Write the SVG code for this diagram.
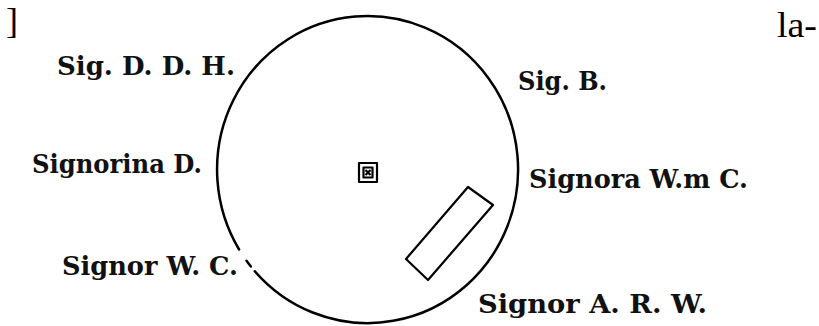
<svg xmlns="http://www.w3.org/2000/svg" width="819" height="326" viewBox="0 0 819 326">
<style>
.lbl{font-family:"DejaVu Serif","Liberation Serif",serif;font-weight:bold;font-size:26px;fill:#111}
.frag{font-family:"Liberation Serif","Times New Roman",serif;font-size:36px;fill:#000}
.ln{fill:none;stroke:#000;stroke-width:2.5;stroke-linecap:round}
.box{fill:none;stroke:#000;stroke-width:2.2;stroke-linejoin:round}
</style>
<rect width="819" height="326" fill="#fff"/>
<text class="frag" x="6" y="33" font-size="28">]</text>
<text class="frag" x="777" y="37" textLength="40" lengthAdjust="spacingAndGlyphs">la-</text>
<g id="table">
<path class="ln" d="M 239.1 249.5 A 150.5 153.5 0 1 1 254.8 271.2"/>
<path class="ln" d="M 246.5 260.8 A 150.5 153.5 0 0 0 250.9 266.5"/>
</g>
<g id="center-mark">
<rect class="box" x="359" y="163" width="18" height="19" stroke-width="2.4"/>
<rect class="box" x="363.5" y="167.5" width="9" height="10" stroke-width="2"/>
<path class="box" d="M365.5 170 L370.5 175 M370.5 170 L365.5 175" stroke-width="1.6"/>
</g>
<g id="slate">
<polygon class="box" points="468,187 493,205 428,280 406,259"/>
</g>
<g id="sig-ddh"><text class="lbl" x="57" y="75" textLength="178" lengthAdjust="spacingAndGlyphs">Sig. D. D. H.</text></g>
<g id="sig-b"><text class="lbl" x="518" y="90" textLength="89" lengthAdjust="spacingAndGlyphs">Sig. B.</text></g>
<g id="signorina-d"><text class="lbl" x="32" y="173" textLength="170" lengthAdjust="spacingAndGlyphs">Signorina D.</text></g>
<g id="signora-wmc"><text class="lbl" x="529" y="188" textLength="219" lengthAdjust="spacingAndGlyphs">Signora W.m C.</text></g>
<g id="signor-wc"><text class="lbl" x="62" y="275" textLength="176" lengthAdjust="spacingAndGlyphs">Signor W. C.</text></g>
<g id="signor-arw"><text class="lbl" x="478" y="313" textLength="229" lengthAdjust="spacingAndGlyphs">Signor A. R. W.</text></g>
</svg>
